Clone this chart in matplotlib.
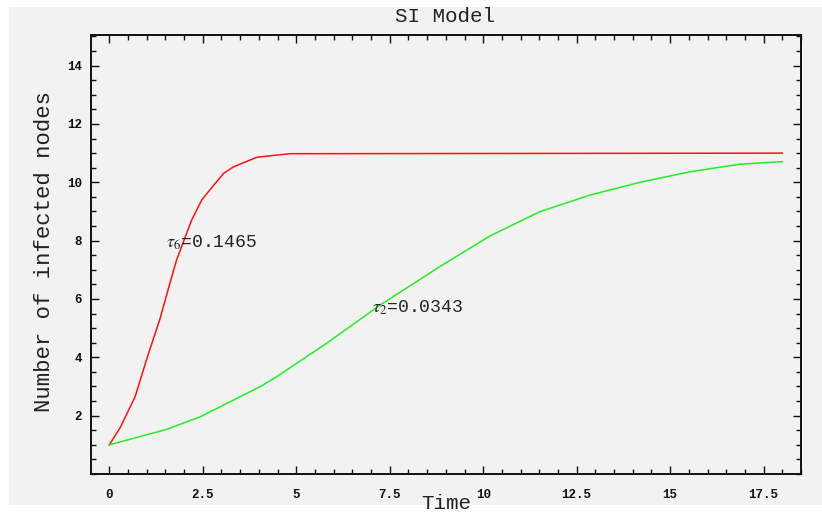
import matplotlib
matplotlib.use('Agg')
import matplotlib.pyplot as plt
from matplotlib.patches import Rectangle
from matplotlib.ticker import FixedLocator, MultipleLocator

plt.rcParams['font.family'] = ['Liberation Mono', 'DejaVu Sans Mono']
plt.rcParams['mathtext.fontset'] = 'stix'

# values
red_t = [0, 0.29, 0.69, 1.02, 1.36, 1.62, 1.80, 2.2, 2.47, 2.69, 3.06, 3.32, 3.95, 4.83, 18.0]
red_y = [1.0, 1.59, 2.65, 4.02, 5.34, 6.54, 7.34, 8.7, 9.39, 9.74, 10.31, 10.53, 10.86, 10.98, 11.0]

green_t = [0, 1.53, 2.43, 4.03, 4.48, 5.81, 7.24, 8.84, 10.18, 11.51, 12.85, 14.19, 15.53, 16.86, 18.0]
green_y = [1.0, 1.53, 1.96, 2.99, 3.34, 4.48, 5.79, 7.11, 8.16, 8.99, 9.56, 10.0, 10.36, 10.62, 10.71]

x_ticks = [0, 2.5, 5, 7.5, 10, 12.5, 15, 17.5]
x_tick_labels = ['0', '2.5', '5', '7.5', '10', '12.5', '15', '17.5']
y_ticks = [2, 4, 6, 8, 10, 12, 14]

labels = [r'$\tau_6$=0.1465', r'$\tau_2$=0.0343']
label_pos = [(1.52, 7.75), (7.03, 5.52)]

W, H = 822, 514
fig = plt.figure(figsize=(W / 100, H / 100), dpi=100, facecolor='white')
bg = '#f2f2f2'
fig.patches.append(Rectangle((9 / W, 1 - 505 / H), (W - 9) / W, 498 / H,
                             transform=fig.transFigure, facecolor=bg,
                             edgecolor='none', zorder=-10))

ax = fig.add_axes([91 / W, 1 - 474 / H, 710 / W, 439 / H])
ax.set_facecolor(bg)

ax.plot(red_t, red_y, color='#ff1010', lw=1.1)
ax.plot(green_t, green_y, color='#22ee22', lw=1.1)

for txt, (tx, ty) in zip(labels, label_pos):
    ax.text(tx, ty, txt, fontsize=13, va='baseline', ha='left', color='#222222')

ax.set_xlim(-0.49, 18.5)
ax.set_ylim(0, 15.05)

ax.xaxis.set_major_locator(FixedLocator(x_ticks))
ax.set_xticklabels(x_tick_labels)
ax.xaxis.set_minor_locator(MultipleLocator(0.5))
ax.yaxis.set_major_locator(FixedLocator(y_ticks))
ax.yaxis.set_minor_locator(MultipleLocator(0.5))

ax.tick_params(which='both', direction='in', top=True, right=True,
               colors='#111111', width=1.0)
ax.tick_params(which='major', length=6)
ax.tick_params(which='minor', length=3.5)
ax.tick_params(axis='x', which='major', pad=11, labelsize=9)
ax.tick_params(axis='y', which='major', pad=6.5, labelsize=9)
for lab in ax.get_xticklabels() + ax.get_yticklabels():
    lab.set_fontweight('bold')

for s in ax.spines.values():
    s.set_linewidth(1.4)
    s.set_color('#111111')

ax.set_xlabel('Time', fontsize=15, color='#222222')
ax.xaxis.set_label_coords(0.5, -0.046)
ax.set_ylabel('Number of infected nodes', fontsize=16, color='#222222')
ax.yaxis.set_label_coords(-0.05, 0.506)

fig.text(445 / W, 1 - 16 / H, 'SI Model', fontsize=15, ha='center', va='center',
         color='#222222')

fig.savefig('out.png', dpi=100, facecolor='white')
